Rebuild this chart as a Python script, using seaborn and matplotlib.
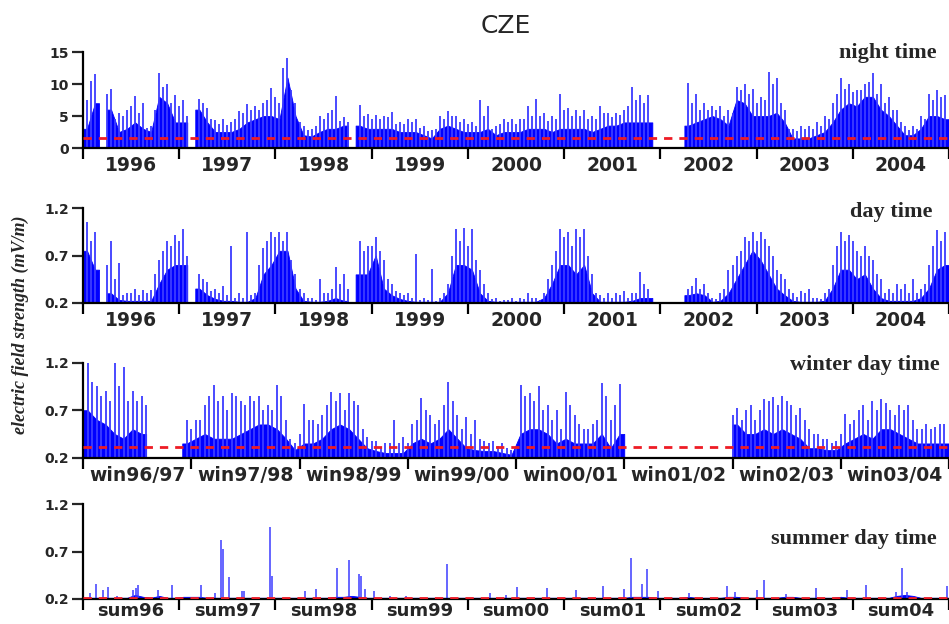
import numpy as np
import pandas as pd
import matplotlib
matplotlib.use("Agg")
import matplotlib.pyplot as plt
import seaborn as sns

nan = np.nan

# ---------------- data ----------------
# core  : dense (solid) level of each month
# peak  : highest spike in the month (drawn at the month centre)
# peak2 : secondary spike at the start of the month
year_labels = ["1996", "1997", "1998", "1999", "2000", "2001", "2002", "2003", "2004"]
winter_labels = ["win96/97", "win97/98", "win98/99", "win99/00", "win00/01",
                 "win01/02", "win02/03", "win03/04"]
summer_labels = ["sum96", "sum97", "sum98", "sum99", "sum00", "sum01", "sum02", "sum03", "sum04"]

night_core = [
    3, 7, nan, 6, 2.5, 3, 4, 3, 2.5, 8, 7, 4,
    4, nan, 6, 4, 2.5, 2.5, 2.5, 3, 4, 4.5, 5, 5,
    4.5, 11, 5, 2, 1.8, 2.5, 3, 3, 3.5, nan, 3.5, 3,
    3, 3, 3, 2.5, 2.5, 2.5, 2, 1.5, 3, 3.5, 3, 2.5,
    2.5, 2.5, 3, 2, 2.5, 2.5, 2.5, 3, 3, 3, 2.5, 3,
    3, 3, 3, 2.5, 3, 3.5, 3.5, 4, 4, 4, 4, nan,
    nan, nan, nan, 3.5, 4, 4.5, 5, 4.5, 3.5, 7.5, 7, 5,
    5, 5, 5.5, 4, 1.5, 1.5, 1.5, 2, 2.5, 4, 6, 7,
    6.5, 8, 8, 6, 5, 3.5, 2, 2, 3, 5, 5, 4.5,
]
night_peak = [
    7.5, 11.5, nan, 9.2, 5.5, 6, 8.2, 7, 3.5, 11.7, 10, 8.3,
    7.5, nan, 7.6, 6.3, 4.3, 4.5, 4, 5.8, 6.8, 6.5, 7, 9.4,
    7, 14, 7, 3.5, 3, 5, 5.5, 8.2, 4.8, nan, 6.7, 5.3,
    5.2, 5, 5.7, 4, 4.5, 4.5, 3.5, 2.8, 5, 5.8, 5, 4.5,
    4, 7.5, 6.5, 3.5, 4.5, 4.5, 4.5, 6.5, 7.6, 5.5, 5, 8.5,
    6.3, 6, 6, 5, 6.5, 5.5, 5.5, 6, 9.5, 8.3, 8.3, nan,
    nan, nan, nan, 10.2, 8.5, 7, 6.5, 6.5, 6, 9.5, 10, 9.2,
    8, 11.8, 11, 6, 3, 3.5, 3.5, 4, 5, 7, 10.9, 10,
    9, 10, 11.7, 10, 8, 6, 3.5, 3.5, 5, 8.5, 9, 8.3,
]
night_peak2 = [
    nan, 10.5, nan, 8.5, 4.5, 5, 6.5, 5.5, 3.2, 6, 9.5, 7,
    6.5, 5, nan, 7, 4.5, 3.8, 3.6, 4.5, 5.5, 6, 6, 7.5,
    8, 12.5, 9, 4, 2.8, 3.5, 4.5, 6, 4.2, 4, nan, 5,
    4.5, 4.5, 4.8, 3.8, 3.8, 4, 3.2, 2.6, 3, 4.5, 5, 4,
    3.8, 3.5, 5, 3, 3.8, 4, 3.8, 4.5, 5, 5, 4.2, 4.5,
    6, 5, 5, 4.5, 4.5, 5.5, 4.8, 5.2, 6.5, 7.5, 7, nan,
    nan, nan, nan, nan, 7, 6, 6, 6, 5, 5.5, 9, 8.5,
    7, 7.5, 10, 7, 3, 2.6, 3, 3, 3.5, 4.5, 8.5, 9.2,
    8.8, 9, 10.3, 8.5, 7, 5.9, 4, 2.8, 3, 4.5, 7.5, 8,
]

day_core = [
    0.75, 0.55, nan, 0.3, 0.23, 0.22, 0.22, 0.22, 0.22, 0.4, 0.55, 0.6,
    0.6, nan, 0.35, 0.28, 0.24, 0.22, 0.22, 0.21, 0.21, 0.25, 0.5, 0.6,
    0.75, 0.75, 0.35, 0.22, 0.21, 0.21, 0.22, 0.25, 0.22, nan, 0.5, 0.5,
    0.7, 0.35, 0.28, 0.24, 0.22, 0.21, 0.21, 0.21, 0.21, 0.3, 0.6, 0.6,
    0.55, 0.3, 0.22, 0.21, 0.21, 0.21, 0.21, 0.21, 0.21, 0.25, 0.4, 0.6,
    0.6, 0.5, 0.6, 0.3, 0.21, 0.21, 0.21, 0.21, 0.22, 0.25, 0.25, nan,
    nan, nan, nan, 0.28, 0.3, 0.28, 0.21, 0.22, 0.3, 0.45, 0.6, 0.75,
    0.65, 0.5, 0.35, 0.28, 0.22, 0.21, 0.21, 0.21, 0.22, 0.35, 0.55, 0.55,
    0.45, 0.5, 0.35, 0.25, 0.22, 0.22, 0.22, 0.22, 0.25, 0.35, 0.55, 0.6,
]
day_peak = [
    1.05, 0.95, nan, 0.85, 0.62, 0.3, 0.35, 0.33, 0.33, 0.65, 0.85, 0.92,
    0.98, nan, 0.5, 0.42, 0.35, 0.38, 0.8, 0.3, 0.95, 0.3, 0.78, 0.95,
    0.95, 0.95, 0.5, 0.3, 0.25, 0.45, 0.3, 0.58, 0.5, nan, 0.85, 0.8,
    0.9, 0.65, 0.4, 0.3, 0.3, 0.72, 0.25, 0.56, 0.25, 0.4, 0.98, 0.99,
    0.98, 0.55, 0.3, 0.25, 0.23, 0.25, 0.25, 0.3, 0.25, 0.3, 0.6, 0.98,
    0.95, 0.98, 0.98, 0.5, 0.28, 0.3, 0.3, 0.32, 0.3, 0.52, 0.35, nan,
    nan, nan, nan, 0.35, 0.46, 0.4, 0.25, 0.3, 0.55, 0.7, 0.9, 0.95,
    0.95, 0.8, 0.55, 0.45, 0.3, 0.32, 0.35, 0.25, 0.3, 0.6, 0.95, 0.92,
    0.75, 0.8, 0.65, 0.45, 0.35, 0.4, 0.4, 0.45, 0.35, 0.6, 0.97, 0.95,
]
day_peak2 = [
    nan, 0.85, nan, 0.6, 0.45, 0.28, 0.3, 0.28, 0.3, 0.5, 0.75, 0.8,
    0.85, 0.7, nan, 0.45, 0.32, 0.3, 0.28, 0.25, 0.25, 0.28, 0.6, 0.85,
    0.9, 0.85, 0.65, 0.35, 0.25, 0.23, 0.3, 0.35, 0.4, 0.35, nan, 0.75,
    0.8, 0.75, 0.45, 0.32, 0.28, 0.25, 0.23, 0.23, 0.22, 0.3, 0.7, 0.85,
    0.8, 0.65, 0.4, 0.24, 0.22, 0.23, 0.22, 0.24, 0.25, 0.23, 0.45, 0.75,
    0.9, 0.8, 0.9, 0.7, 0.3, 0.25, 0.25, 0.28, 0.25, 0.3, 0.4, nan,
    nan, nan, nan, nan, 0.38, 0.35, 0.3, 0.24, 0.35, 0.6, 0.75, 0.85,
    0.85, 0.88, 0.7, 0.5, 0.35, 0.26, 0.3, 0.25, 0.24, 0.35, 0.8, 0.85,
    0.85, 0.7, 0.7, 0.5, 0.3, 0.3, 0.35, 0.3, 0.3, 0.4, 0.8, 0.85,
]

winter_core = [
    0.7, 0.6, 0.55, 0.45, 0.4, 0.5, 0.45, nan, nan, nan, nan, 0.35,
    0.4, 0.45, 0.4, 0.4, 0.4, 0.45, 0.5, 0.55, 0.55, 0.5, 0.4, 0.28,
    0.35, 0.35, 0.4, 0.5, 0.55, 0.5, 0.4, 0.3, 0.27, 0.25, 0.25, 0.25,
    0.35, 0.4, 0.35, 0.4, 0.5, 0.4, 0.3, 0.28, 0.27, 0.27, 0.25, 0.23,
    0.45, 0.5, 0.5, 0.45, 0.35, 0.4, 0.35, 0.35, 0.35, 0.45, 0.3, 0.45,
    nan, nan, nan, nan, nan, nan, nan, nan, nan, nan, nan, nan,
    0.55, 0.45, 0.45, 0.5, 0.45, 0.5, 0.45, 0.4, 0.3, 0.3, 0.28, 0.28,
    0.35, 0.4, 0.45, 0.4, 0.5, 0.5, 0.45, 0.4, 0.35, 0.35, 0.35, 0.35,
]
winter_peak = [
    1.2, 0.95, 0.9, 1.2, 1.15, 0.9, 0.85, nan, nan, nan, nan, 0.6,
    0.6, 0.75, 0.96, 0.85, 0.88, 0.8, 0.85, 0.85, 0.75, 0.96, 0.6, 0.35,
    0.76, 0.6, 0.65, 0.89, 0.88, 0.88, 0.75, 0.42, 0.38, 0.35, 0.6, 0.42,
    0.55, 0.83, 0.65, 0.6, 1.0, 0.65, 0.63, 0.6, 0.38, 0.38, 0.35, 0.28,
    0.97, 0.88, 0.95, 0.75, 0.7, 0.89, 0.65, 0.5, 0.55, 0.99, 0.6, 0.98,
    nan, nan, nan, nan, nan, nan, nan, nan, nan, nan, nan, nan,
    0.72, 0.7, 0.6, 0.82, 0.84, 0.85, 0.75, 0.72, 0.5, 0.45, 0.4, 0.38,
    0.66, 0.6, 0.75, 0.8, 0.82, 0.7, 0.75, 0.75, 0.5, 0.55, 0.52, 0.55,
]
winter_peak2 = [
    nan, 1.0, 0.85, 0.8, 0.95, 0.8, 0.8, 0.75, nan, nan, nan, nan,
    0.5, 0.6, 0.85, 0.8, 0.7, 0.85, 0.75, 0.8, 0.7, 0.7, 0.85, 0.4,
    0.45, 0.6, 0.55, 0.75, 0.8, 0.7, 0.8, 0.5, 0.38, 0.3, 0.35, 0.35,
    0.35, 0.6, 0.7, 0.55, 0.75, 0.8, 0.5, 0.45, 0.4, 0.35, 0.32, 0.3,
    0.3, 0.85, 0.8, 0.7, 0.6, 0.5, 0.75, 0.55, 0.5, 0.6, 0.85, 0.75,
    nan, nan, nan, nan, nan, nan, nan, nan, nan, nan, nan, nan,
    0.65, 0.6, 0.75, 0.7, 0.8, 0.75, 0.8, 0.65, 0.6, 0.45, 0.4, 0.35,
    0.45, 0.55, 0.7, 0.6, 0.7, 0.78, 0.65, 0.7, 0.6, 0.5, 0.5, 0.55,
]

summer_core = [
    0.21, 0.21, 0.21, 0.21, 0.21, 0.21, 0.24, 0.22, 0.21, 0.23, 0.21, 0.21,
    0.22, 0.22, 0.22, 0.21, 0.21, 0.21, 0.21, 0.21, 0.21, 0.21, 0.21, 0.21,
    0.21, 0.21, 0.21, 0.21, 0.21, 0.21, 0.21, 0.22, 0.22, 0.23, 0.22, 0.21,
    0.21, 0.21, 0.21, 0.21, 0.21, 0.21, 0.21, 0.21, 0.21, 0.21, 0.21, 0.21,
    0.21, 0.21, 0.21, 0.21, 0.21, 0.21, 0.21, 0.21, 0.21, 0.21, 0.21, 0.21,
    0.21, 0.21, 0.21, 0.21, 0.21, 0.21, 0.21, 0.21, 0.22, 0.22, 0.22, 0.21,
    0.21, 0.21, 0.21, 0.22, 0.21, 0.21, 0.21, 0.21, 0.22, 0.22, 0.21, 0.21,
    0.21, 0.21, 0.21, 0.22, 0.22, 0.21, 0.21, 0.21, 0.21, 0.21, 0.22, 0.21,
    0.21, 0.21, 0.21, 0.21, 0.21, 0.23, 0.24, 0.23, 0.21, 0.21, 0.21, 0.21,
]
summer_spike_t = [0.07, 0.14, 0.21, 0.26, 0.35, 0.52, 0.55, 0.575, 0.78, 0.92,
                  1.23, 1.37, 1.43, 1.45, 1.52, 1.65, 1.67, 1.94, 1.96, 2.31,
                  2.42, 2.64, 2.76, 2.87, 2.885, 2.93, 3.02, 3.19, 3.36, 3.78,
                  4.23, 4.40, 4.51, 4.82, 5.12, 5.40, 5.62, 5.70, 5.81, 5.86,
                  5.98, 6.30, 6.69, 6.78, 7.00, 7.08, 7.31, 7.62, 7.94, 8.14,
                  8.45, 8.51, 8.56, 8.98]
summer_spike_v = [0.26, 0.36, 0.29, 0.32, 0.23, 0.29, 0.31, 0.345, 0.29, 0.34,
                  0.345, 0.26, 0.82, 0.73, 0.43, 0.28, 0.28, 0.96, 0.44, 0.28,
                  0.30, 0.52, 0.61, 0.46, 0.44, 0.30, 0.28, 0.23, 0.23, 0.57,
                  0.26, 0.24, 0.32, 0.31, 0.29, 0.33, 0.30, 0.63, 0.36, 0.51,
                  0.28, 0.26, 0.33, 0.27, 0.29, 0.40, 0.25, 0.31, 0.29, 0.345,
                  0.27, 0.52, 0.27, 0.33]

night_threshold = 1.5
winter_threshold = 0.31
summer_threshold = 0.21

# ---------------- style ----------------
sns.set_style("ticks")
plt.rcParams["font.family"] = ["DejaVu Sans"]

W, H = 949, 624
fig = plt.figure(figsize=(W / 100, H / 100), dpi=100)

BLUE = "#0000ff"
SPIKE = "#3c3cff"
RED = "#ee1c25"


def rect(top_px, bottom_px):
    return [83 / W, 1 - bottom_px / H, 1 - 83 / W, (bottom_px - top_px) / H]


def style_axis(ax, labels, yticks, ylim, yticklabels, pad=6, lsize=13.5):
    n = len(labels)
    ax.set_xlim(0, n)
    ax.set_ylim(*ylim)
    ax.set_xticks(np.arange(n + 1))
    ax.set_xticklabels([])
    ax.set_xticks(np.arange(n) + 0.5, minor=True)
    ax.set_xticklabels(labels, minor=True, fontsize=lsize, fontweight="bold")
    ax.tick_params(axis="x", which="major", direction="out", length=8, width=1.6, color="black")
    ax.tick_params(axis="x", which="minor", length=0, pad=pad)
    ax.set_yticks(yticks)
    ax.set_yticklabels(yticklabels, fontsize=10, fontweight="bold")
    ax.tick_params(axis="y", direction="out", length=8, width=1.6, pad=2)
    sns.despine(ax=ax)
    for s in ("left", "bottom"):
        ax.spines[s].set_linewidth(1.6)
        ax.spines[s].set_color("black")
    ax.set_xlabel("")
    ax.set_ylabel("")
    ax.set_facecolor("white")


def runs(values):
    """Split indices of non-missing values into contiguous runs."""
    ok = ~np.isnan(values)
    out, cur = [], []
    for i, good in enumerate(ok):
        if good:
            cur.append(i)
        elif cur:
            out.append(cur)
            cur = []
    if cur:
        out.append(cur)
    return out


def draw_dense(ax, core, peak, peak2, nper, base, color=BLUE):
    core = np.asarray(core, dtype=float)
    centers = (np.arange(len(core)) + 0.5) / nper
    starts = np.arange(len(core)) / nper
    for r in runs(core):
        xs = np.concatenate([[r[0] / nper], centers[r], [(r[-1] + 1) / nper]])
        ys = np.concatenate([[core[r[0]]], core[r], [core[r[-1]]]])
        ax.fill_between(xs, base, ys, color=color, lw=0.6, edgecolor=color, zorder=2)
    for pos, pk in ((centers, peak), (starts, peak2)):
        if pk is None:
            continue
        pk = np.asarray(pk, dtype=float)
        ok = ~np.isnan(pk)
        ax.vlines(pos[ok], base, pk[ok], color=SPIKE, lw=1.3, zorder=2)


def threshold(ax, level, n):
    df = pd.DataFrame({"x": [0, n], "y": [level, level]})
    sns.lineplot(data=df, x="x", y="y", ax=ax, color=RED, lw=2.0, zorder=5)
    ax.lines[-1].set_dashes((3, 2.5))


# ---- panel 1: night time
ax1 = fig.add_axes(rect(52, 148))
draw_dense(ax1, night_core, night_peak, night_peak2, 12, 0)
threshold(ax1, night_threshold, 9)
style_axis(ax1, year_labels, [0, 5, 10, 15], (0, 15), ["0", "5", "10", "15"])

# ---- panel 2: day time
ax2 = fig.add_axes(rect(208.3, 302.7))
draw_dense(ax2, day_core, day_peak, day_peak2, 12, 0.2)
style_axis(ax2, year_labels, [0.2, 0.7, 1.2], (0.2, 1.2), ["0.2", "0.7", "1.2"])

# ---- panel 3: winter day time
ax3 = fig.add_axes(rect(362.7, 457.7))
draw_dense(ax3, winter_core, winter_peak, winter_peak2, 12, 0.2)
threshold(ax3, winter_threshold, 8)
style_axis(ax3, winter_labels, [0.2, 0.7, 1.2], (0.2, 1.2), ["0.2", "0.7", "1.2"])

# ---- panel 4: summer day time
ax4 = fig.add_axes(rect(504.3, 598.7))
draw_dense(ax4, summer_core, None, None, 12, 0.2)
ax4.vlines(summer_spike_t, 0.2, summer_spike_v, color=SPIKE, lw=1.1, zorder=2)
threshold(ax4, summer_threshold, 9)
style_axis(ax4, summer_labels, [0.2, 0.7, 1.2], (0.2, 1.2), ["0.2", "0.7", "1.2"],
           pad=2.5, lsize=13)

# ---- texts
fig.text(506 / W, 1 - 26 / H, "CZE", ha="center", va="center", fontsize=18,
         family="DejaVu Sans")
serif = dict(family="Liberation Serif", fontweight="bold", ha="right", va="center", fontsize=16)
fig.text(937 / W, 1 - 53 / H, "night time", **serif)
fig.text(932 / W, 1 - 212 / H, "day time", **serif)
fig.text(940 / W, 1 - 365 / H, "winter day time", **serif)
fig.text(937 / W, 1 - 539 / H, "summer day time", **serif)
fig.text(20 / W, 1 - 325 / H, "electric field strength (mV/m)", rotation=90,
         ha="center", va="center", family="Liberation Serif", style="italic",
         fontweight="bold", fontsize=13)

fig.savefig("out.png", dpi=100, facecolor="white")
